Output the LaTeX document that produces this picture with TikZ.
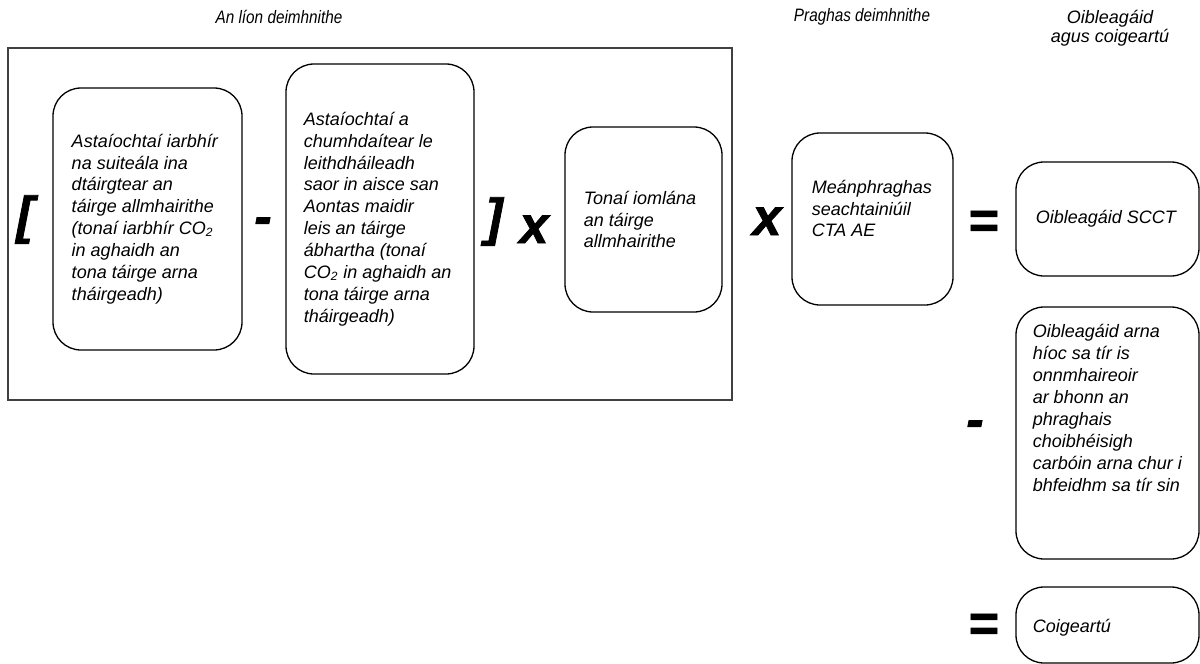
\documentclass[tikz,border=0pt]{standalone}
\usepackage{fontspec}
\setmainfont{Liberation Sans}
\usepackage{tikz}
\tikzset{
  box/.style={draw, line width=0.65pt, rounded corners=14pt, inner sep=0pt},
  txt/.style={inner sep=0pt, align=left, anchor=west, font=\itshape\fontsize{9pt}{10.95pt}\selectfont},
  head/.style={inner sep=0pt, align=center, font=\itshape\fontsize{9pt}{9.5pt}\selectfont},
  op/.style={inner sep=0pt, anchor=base, font=\bfseries\itshape\addfontfeatures{FakeBold=1.5}\fontsize{26pt}{26pt}\selectfont}
}

\begin{document}
\begin{tikzpicture}[x=0.5pt, y=-0.5pt]
\useasboundingbox (0,0) rectangle (1200,664);
\draw[line width=0.75pt, black!75] (8,48) rectangle (732,400);
\node[head, xscale=0.85, transform shape] (h-amount) at (279,17) {An líon deimhnithe};
\node[head, xscale=0.85, transform shape] (h-price) at (862,17) {Praghas deimhnithe};
\node[head] (h-oblig) at (1110,28.5) {Oibleagáid\\agus coigeartú};
\node[box, minimum width=94.5pt, minimum height=131pt] (emis) at (147.5,219) {};
\node[txt] (emis-t) at ([xshift=9.5pt]emis.west) {Astaíochtaí iarbhír\\na suiteála ina\\dtáirgtear an\\táirge allmhairithe\\(tonaí iarbhír CO\textsubscript{2}\\in aghaidh an\\tona táirge arna\\tháirgeadh)};
\node[box, minimum width=94pt, minimum height=155pt] (alloc) at (380,219) {};
\node[txt] (alloc-t) at ([xshift=9pt]alloc.west) {Astaíochtaí a\\chumhdaítear le\\leithdháileadh\\saor in aisce san\\Aontas maidir\\leis an táirge\\ábhartha (tonaí\\CO\textsubscript{2} in aghaidh an\\tona táirge arna\\tháirgeadh)};
\node[box, minimum width=78.5pt, minimum height=92.5pt] (tonnes) at (643.5,219.5) {};
\node[txt] (tonnes-t) at ([xshift=9.5pt]tonnes.west) {Tonaí iomlána\\an táirge\\allmhairithe};
\node[box, minimum width=80.5pt, minimum height=86pt] (price) at (872.5,219) {};
\node[txt] (price-t) at ([xshift=10pt, yshift=5.25pt]price.west) {Meánphraghas\\seachtainiúil\\CTA AE};
\node[box, minimum width=91.5pt, minimum height=57pt] (oblig) at (1107.5,219) {};
\node[txt] (oblig-t) at ([xshift=10pt]oblig.west) {Oibleagáid SCCT};
\node[box, minimum width=91.5pt, minimum height=126pt] (paid) at (1107.5,433) {};
\node[txt] (paid-t) at ([xshift=8.5pt, yshift=12.5pt]paid.west) {Oibleagáid arna\\híoc sa tír is\\onnmhaireoir\\ar bhonn an\\phraghais\\choibhéisigh\\carbóin arna chur i\\bhfeidhm sa tír sin};
\node[box, minimum width=91.5pt, minimum height=38pt] (adjust) at (1107.5,625) {};
\node[txt] (adjust-t) at ([xshift=8.5pt, yshift=-1.5pt]adjust.west) {Coigeartú};
\node[op] (lbr) at (25,233) {[};
\node[op] (minus1) at (263,234) {-};
\node[op] (rbr) at (494,235) {]};
\node[op] (times1) at (534,243) {x};
\node[op] (times2) at (767,235) {x};
\node[op] (eq1) at (983,238) {=};
\node[op] (minus2) at (975,437) {-};
\node[op] (eq2) at (983,641) {=};
\end{tikzpicture}
\end{document}
